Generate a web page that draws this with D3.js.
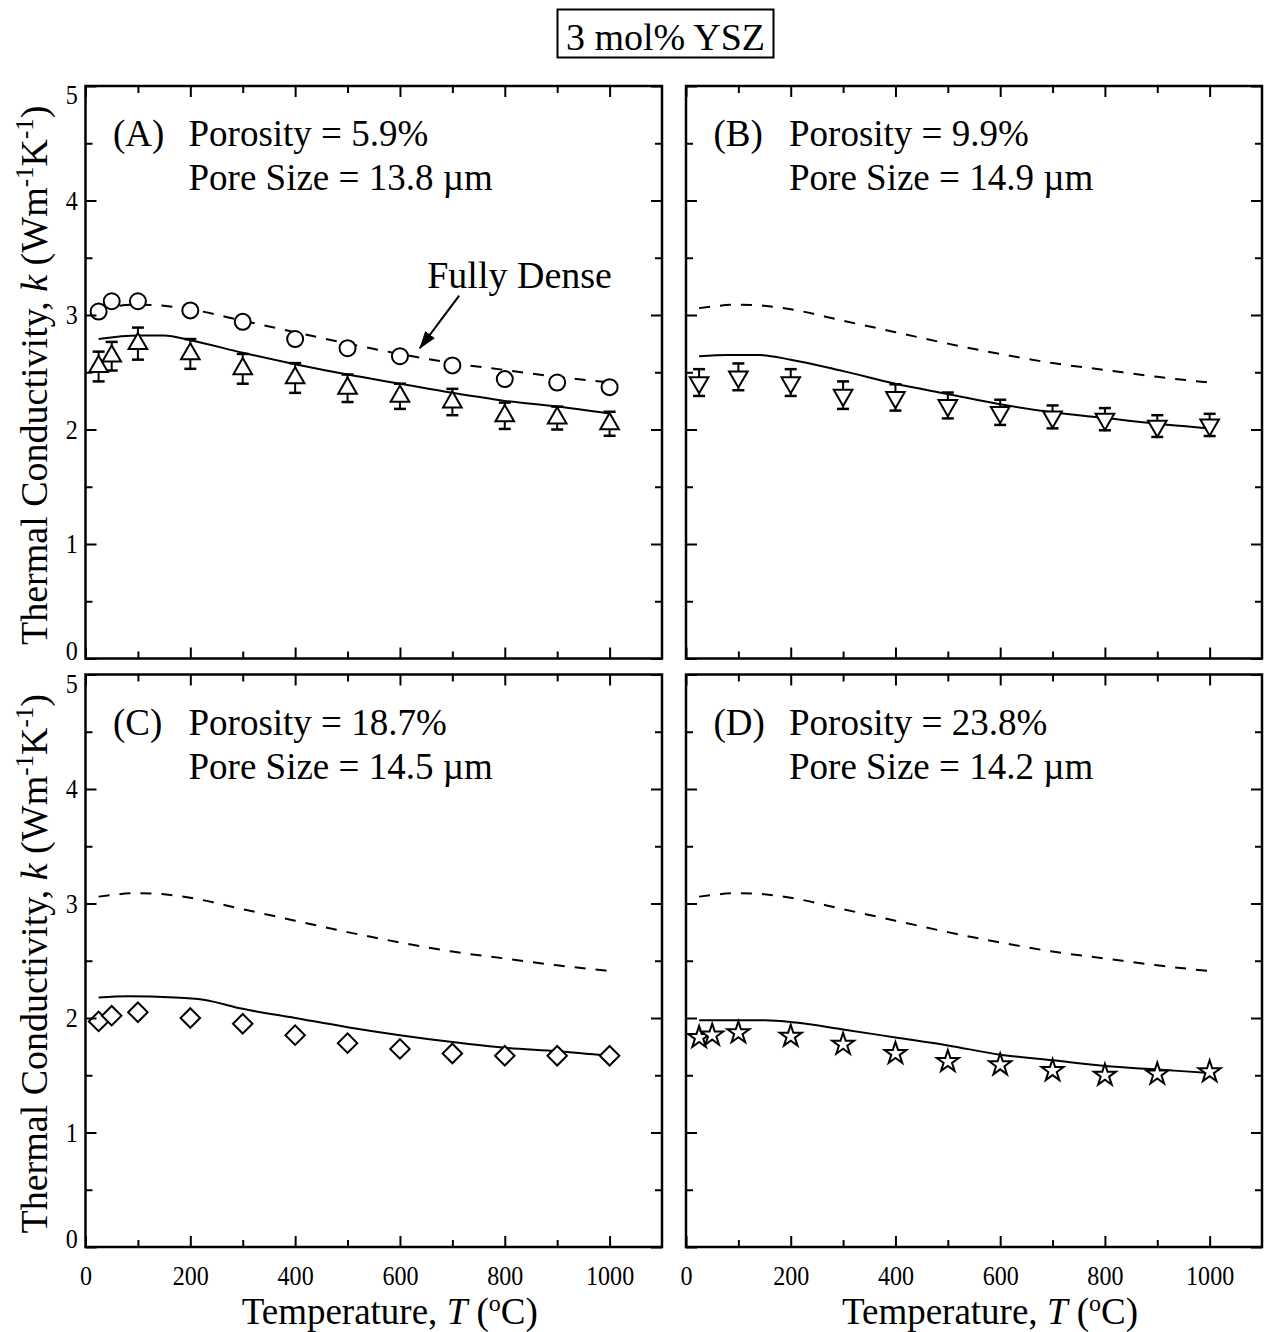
<!DOCTYPE html>
<html>
<head>
<meta charset="utf-8">
<script src="https://cdn.jsdelivr.net/npm/d3@7"></script>
<style>
  body { margin: 0; background: #fff; }
  svg { display: block; }
</style>
</head>
<body>
<svg id="chart" width="1265" height="1332"></svg>
<script>
// ---------------- DATA ----------------
const chartTitle = "3 mol% YSZ";
const panelLetters = ["A", "B", "C", "D"];
const porosityPct = ["5.9", "9.9", "18.7", "23.8"];
const poreSizeUm = ["13.8", "14.9", "14.5", "14.2"];

const xMajorTicks = [0, 200, 400, 600, 800, 1000];
const xMinorTicks = [100, 300, 500, 700, 900];
const yMajorTicks = [0, 1, 2, 3, 4, 5];
const yMinorTicks = [0.5, 1.5, 2.5, 3.5, 4.5];

// Fully dense model (dashed), same in every panel
const denseModelT = [25, 100, 150, 200, 300, 400, 500, 600, 700, 800, 900, 1000];
const denseModelK = [3.06, 3.09, 3.08, 3.05, 2.95, 2.85, 2.75, 2.66, 2.58, 2.52, 2.46, 2.41];

// Panel A
const tempsA = [25, 50, 100, 200, 300, 400, 500, 600, 700, 800, 900, 1000];
const denseDataA = [3.03, 3.12, 3.12, 3.04, 2.94, 2.79, 2.71, 2.64, 2.56, 2.44, 2.41, 2.37];
const poroDataA = [2.55, 2.64, 2.75, 2.66, 2.53, 2.45, 2.36, 2.29, 2.24, 2.12, 2.10, 2.05];
const poroErrA = [0.13, 0.125, 0.14, 0.13, 0.13, 0.13, 0.12, 0.11, 0.115, 0.115, 0.10, 0.105];
const modelTA = [25, 100, 150, 200, 300, 400, 500, 600, 700, 800, 900, 1000];
const modelKA = [2.79, 2.82, 2.82, 2.78, 2.67, 2.57, 2.48, 2.40, 2.32, 2.25, 2.20, 2.14];

// Panel B
const tempsB = [25, 100, 200, 300, 400, 500, 600, 700, 800, 900, 1000];
const poroDataB = [2.41, 2.46, 2.41, 2.30, 2.28, 2.21, 2.15, 2.11, 2.09, 2.03, 2.04];
const poroErrB = [0.117, 0.117, 0.117, 0.12, 0.115, 0.113, 0.11, 0.10, 0.097, 0.095, 0.097];
const modelTB = [25, 80, 140, 200, 300, 400, 500, 600, 700, 800, 900, 1000];
const modelKB = [2.64, 2.65, 2.65, 2.61, 2.51, 2.40, 2.31, 2.22, 2.15, 2.10, 2.05, 2.01];

// Panel C
const tempsC = [25, 50, 100, 200, 300, 400, 500, 600, 700, 800, 900, 1000];
const poroDataC = [1.97, 2.02, 2.05, 2.00, 1.95, 1.85, 1.78, 1.73, 1.69, 1.67, 1.67, 1.67];
const modelTC = [25, 80, 170, 225, 300, 400, 500, 600, 700, 800, 900, 1000];
const modelKC = [2.18, 2.19, 2.18, 2.16, 2.08, 2.00, 1.92, 1.85, 1.79, 1.74, 1.71, 1.67];

// Panel D
const tempsD = [25, 50, 100, 200, 300, 400, 500, 600, 700, 800, 900, 1000];
const poroDataD = [1.83, 1.85, 1.87, 1.84, 1.77, 1.69, 1.62, 1.59, 1.54, 1.50, 1.51, 1.53];
const modelTD = [25, 80, 150, 210, 300, 400, 500, 600, 700, 800, 900, 1000];
const modelKD = [1.98, 1.98, 1.98, 1.96, 1.90, 1.83, 1.76, 1.68, 1.63, 1.58, 1.55, 1.52];

// Annotation "Fully Dense" (data coordinates in panel A)
const fullyDenseLabel = { text: "Fully Dense", T: 652, k: 3.24 };
const fullyDenseArrow = { T1: 713, k1: 3.17, T2: 638, k2: 2.71 };

// ---------------- LAYOUT ----------------
const FONT = "'Liberation Serif','Times New Roman',Times,serif";
const svg = d3.select("#chart");
const cols = [[85.5, 662], [686, 1262]];
const rows = [[86, 658.5], [674.5, 1247]];
const xDomain = [0, 1100];
const yDomain = [0, 5];
const TICK_FONT = 28;

const panelDefs = [
  { T: tempsA, K: poroDataA, E: poroErrA, mT: modelTA, mK: modelKA, shape: "triUp", extra: { T: tempsA, K: denseDataA, shape: "circle" } },
  { T: tempsB, K: poroDataB, E: poroErrB, mT: modelTB, mK: modelKB, shape: "triDown" },
  { T: tempsC, K: poroDataC, E: null, mT: modelTC, mK: modelKC, shape: "diamond" },
  { T: tempsD, K: poroDataD, E: null, mT: modelTD, mK: modelKD, shape: "star" }
];

const symbols = {
  circle: { gen: d3.symbol(d3.symbolCircle, 201), rot: 0 },
  triUp: { gen: d3.symbol(d3.symbolTriangle, 150), rot: 0 },
  triDown: { gen: d3.symbol(d3.symbolTriangle, 150), rot: 180 },
  diamond: { gen: d3.symbol(d3.symbolSquare, 190), rot: 45 },
  star: { gen: d3.symbol(d3.symbolStar, 150), rot: 0 }
};

// arrow head marker
svg.append("defs").append("marker")
  .attr("id", "arrowhead")
  .attr("markerUnits", "userSpaceOnUse")
  .attr("markerWidth", 18).attr("markerHeight", 12)
  .attr("refX", 17).attr("refY", 6)
  .attr("orient", "auto")
  .append("path").attr("d", "M0,0 L18,6 L0,12 Z").attr("fill", "#000");

function styleAxis(g, showText) {
  g.attr("font-size", null).attr("font-family", null);
  g.select(".domain").remove();
  g.selectAll(".tick line").attr("stroke", "#000").attr("stroke-width", 2);
  g.selectAll(".tick text")
    .attr("font-family", FONT).attr("font-size", TICK_FONT).attr("fill", "#000")
    .attr("transform", "scale(0.86,1)");
  if (!showText) g.selectAll(".tick text").remove();
}

panelDefs.forEach((p, i) => {
  const c = i % 2, r = Math.floor(i / 2);
  const [x0, x1] = cols[c];
  const [y0, y1] = rows[r];
  const x = d3.scaleLinear().domain(xDomain).range([x0, x1]);
  const y = d3.scaleLinear().domain(yDomain).range([y1, y0]);
  const g = svg.append("g");

  const line = d3.line().x(d => x(d[0])).y(d => y(d[1])).curve(d3.curveMonotoneX);

  // dashed fully dense model
  g.append("path")
    .datum(denseModelT.map((t, j) => [t, denseModelK[j]]))
    .attr("d", line).attr("fill", "none").attr("stroke", "#000")
    .attr("stroke-width", 2).attr("stroke-dasharray", "11,10");

  // solid porous model
  g.append("path")
    .datum(p.mT.map((t, j) => [t, p.mK[j]]))
    .attr("d", line).attr("fill", "none").attr("stroke", "#000")
    .attr("stroke-width", 2);

  // extra series (fully dense data) in panel A
  if (p.extra) {
    const s = symbols[p.extra.shape];
    g.selectAll(".extra").data(p.extra.T.map((t, j) => [t, p.extra.K[j]])).enter()
      .append("path")
      .attr("d", s.gen)
      .attr("transform", d => `translate(${x(d[0])},${y(d[1])}) rotate(${s.rot})`)
      .attr("fill", "#fff").attr("stroke", "#000").attr("stroke-width", 2);
  }

  // error bars
  if (p.E) {
    const eb = g.selectAll(".eb").data(p.T.map((t, j) => [t, p.K[j], p.E[j]])).enter().append("g");
    eb.append("line")
      .attr("x1", d => x(d[0])).attr("x2", d => x(d[0]))
      .attr("y1", d => y(d[1] - d[2])).attr("y2", d => y(d[1] + d[2]))
      .attr("stroke", "#000").attr("stroke-width", 2);
    [1, -1].forEach(sg => {
      eb.append("line")
        .attr("x1", d => x(d[0]) - 6).attr("x2", d => x(d[0]) + 6)
        .attr("y1", d => y(d[1] + sg * d[2])).attr("y2", d => y(d[1] + sg * d[2]))
        .attr("stroke", "#000").attr("stroke-width", 2.5);
    });
  }

  // porous data markers
  const s = symbols[p.shape];
  g.selectAll(".pt").data(p.T.map((t, j) => [t, p.K[j]])).enter()
    .append("path")
    .attr("d", s.gen)
    .attr("transform", d => `translate(${x(d[0])},${y(d[1])}) rotate(${s.rot})`)
    .attr("fill", "#fff").attr("stroke", "#000").attr("stroke-width", 2);

  // frame
  g.append("rect")
    .attr("x", x0).attr("y", y0).attr("width", x1 - x0).attr("height", y1 - y0)
    .attr("fill", "none").attr("stroke", "#000").attr("stroke-width", 2.5);

  // axes (inward ticks on all sides)
  const showX = r === 1, showY = c === 0;
  g.append("g").attr("transform", `translate(0,${y1})`)
    .call(d3.axisBottom(x).tickValues(xMajorTicks).tickSize(-11).tickPadding(18).tickFormat(d3.format("d")))
    .call(ax => styleAxis(ax, showX));
  g.append("g").attr("transform", `translate(0,${y1})`)
    .call(d3.axisBottom(x).tickValues(xMinorTicks).tickSize(-7).tickFormat(""))
    .call(ax => styleAxis(ax, false));
  g.append("g").attr("transform", `translate(0,${y0})`)
    .call(d3.axisTop(x).tickValues(xMajorTicks).tickSize(-11).tickFormat(""))
    .call(ax => styleAxis(ax, false));
  g.append("g").attr("transform", `translate(0,${y0})`)
    .call(d3.axisTop(x).tickValues(xMinorTicks).tickSize(-7).tickFormat(""))
    .call(ax => styleAxis(ax, false));
  g.append("g").attr("transform", `translate(${x0},0)`)
    .call(d3.axisLeft(y).tickValues(yMajorTicks).tickSize(-11).tickPadding(9).tickFormat(d3.format("d")))
    .call(ax => styleAxis(ax, showY))
    .call(ax => ax.selectAll(".tick text")
      .attr("dy", d => d === 0 ? "0.02em" : (d === 5 ? "0.63em" : "0.32em")));
  g.append("g").attr("transform", `translate(${x0},0)`)
    .call(d3.axisLeft(y).tickValues(yMinorTicks).tickSize(-7).tickFormat(""))
    .call(ax => styleAxis(ax, false));
  g.append("g").attr("transform", `translate(${x1},0)`)
    .call(d3.axisRight(y).tickValues(yMajorTicks).tickSize(-11).tickFormat(""))
    .call(ax => styleAxis(ax, false));
  g.append("g").attr("transform", `translate(${x1},0)`)
    .call(d3.axisRight(y).tickValues(yMinorTicks).tickSize(-7).tickFormat(""))
    .call(ax => styleAxis(ax, false));

  // panel annotation
  const ann = g.append("g").attr("font-family", FONT).attr("font-size", 37).attr("fill", "#000");
  ann.append("text").attr("x", x0 + 27.5).attr("y", y0 + 60).text(`(${panelLetters[i]})`);
  ann.append("text").attr("x", x0 + 103).attr("y", y0 + 60).text(`Porosity = ${porosityPct[i]}%`);
  ann.append("text").attr("x", x0 + 103).attr("y", y0 + 104).text(`Pore Size = ${poreSizeUm[i]} \u00B5m`);

  if (i === 0) {
    g.append("text").attr("font-family", FONT).attr("font-size", 38)
      .attr("x", x(fullyDenseLabel.T)).attr("y", y(fullyDenseLabel.k))
      .text(fullyDenseLabel.text);
    g.append("line")
      .attr("x1", x(fullyDenseArrow.T1)).attr("y1", y(fullyDenseArrow.k1))
      .attr("x2", x(fullyDenseArrow.T2)).attr("y2", y(fullyDenseArrow.k2))
      .attr("stroke", "#000").attr("stroke-width", 2)
      .attr("marker-end", "url(#arrowhead)");
  }

  // x-axis title
  if (showX) {
    const t = svg.append("text").attr("font-family", FONT).attr("font-size", 37)
      .attr("text-anchor", "middle")
      .attr("x", (x0 + x1) / 2 + 16).attr("y", 1324);
    t.append("tspan").text("Temperature, ");
    t.append("tspan").attr("font-style", "italic").text("T");
    t.append("tspan").text(" (");
    t.append("tspan").attr("font-size", 24).attr("dy", -13).text("o");
    t.append("tspan").attr("dy", 13).text("C)");
  }
  // y-axis title
  if (showY) {
    const cy = (y0 + y1) / 2 + 3;
    const t = svg.append("text").attr("font-family", FONT).attr("font-size", 38)
      .attr("text-anchor", "middle")
      .attr("transform", `translate(47,${cy}) rotate(-90)`);
    t.append("tspan").text("Thermal Conductivity, ");
    t.append("tspan").attr("font-style", "italic").text("k");
    t.append("tspan").text(" (Wm");
    t.append("tspan").attr("font-size", 25).attr("dy", -14).text("-1");
    t.append("tspan").attr("dy", 14).text("K");
    t.append("tspan").attr("font-size", 25).attr("dy", -14).text("-1");
    t.append("tspan").attr("dy", 14).text(")");
  }
});

// title box
const titleG = svg.append("g");
titleG.append("rect").attr("x", 557.5).attr("y", 9.5).attr("width", 216).attr("height", 48)
  .attr("fill", "#fff").attr("stroke", "#000").attr("stroke-width", 2);
titleG.append("text").attr("font-family", FONT).attr("font-size", 38)
  .attr("text-anchor", "middle").attr("x", 665.5).attr("y", 50).text(chartTitle);
</script>
</body>
</html>
